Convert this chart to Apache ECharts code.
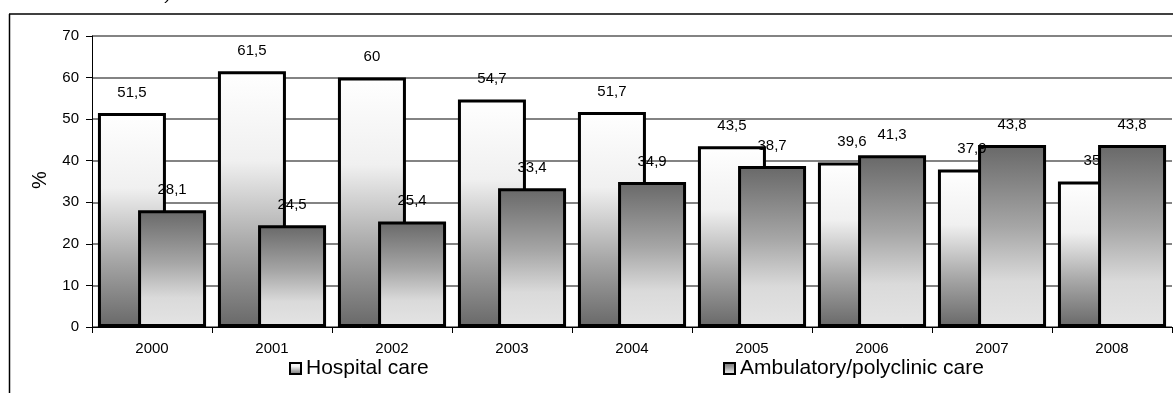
<!DOCTYPE html>
<html>
<head>
<meta charset="utf-8">
<script src="https://cdn.jsdelivr.net/npm/echarts@6/dist/echarts.min.js"></script>
<style>
  html, body { margin: 0; padding: 0; background: #fff; }
  #chart { width: 1173px; height: 393px; }
</style>
</head>
<body>
<div id="chart"></div>
<script>
// Share of funding by type of care, per year (%)
const years = ['2000', '2001', '2002', '2003', '2004', '2005', '2006', '2007', '2008'];
const hospitalCare = [51.5, 61.5, 60, 54.7, 51.7, 43.5, 39.6, 37.9, 35];
const ambulatoryCare = [28.1, 24.5, 25.4, 33.4, 34.9, 38.7, 41.3, 43.8, 43.8];
const yTicks = { min: 0, max: 70, interval: 10 };

const FONT = 'Arial, "Liberation Sans", sans-serif';

// light-at-top fill for hospital bars, dark-at-top fill for ambulatory bars
const hospitalFill = new echarts.graphic.LinearGradient(0, 0, 0, 1, [
  { offset: 0, color: '#ffffff' },
  { offset: 0.35, color: '#f0f0f0' },
  { offset: 0.68, color: '#a8a8a8' },
  { offset: 1, color: '#686868' }
]);
const ambulatoryFill = new echarts.graphic.LinearGradient(0, 0, 0, 1, [
  { offset: 0, color: '#686868' },
  { offset: 0.45, color: '#a6a6a6' },
  { offset: 0.75, color: '#dadada' },
  { offset: 1, color: '#e4e4e4' }
]);

const commaFormat = p => String(p.value).replace('.', ',');

const BAR_WIDTH = 68;
const BAR_GAP = '-41%';

const chart = echarts.init(document.getElementById('chart'), null, { renderer: 'canvas' });

const legendCommon = {
  padding: 0, icon: 'rect',
  itemWidth: 11, itemHeight: 11, itemGap: 5,
  textStyle: { fontSize: 21, fontFamily: FONT, color: '#000', padding: [0, 0, 0, 0] }
};

chart.setOption({
  animation: false,
  backgroundColor: '#ffffff',
  textStyle: { fontFamily: FONT },
  grid: { left: 92, right: 1, top: 36, bottom: 66, containLabel: false },
  graphic: [
    // chart frame
    { type: 'line', shape: { x1: 9, y1: 14, x2: 1173, y2: 14 }, style: { stroke: '#000', lineWidth: 1.5 } },
    { type: 'line', shape: { x1: 9.5, y1: 14, x2: 9.5, y2: 393 }, style: { stroke: '#000', lineWidth: 1.5 } },
    { type: 'text', left: 166, top: -15, style: { text: ')', font: 'italic 18px ' + FONT, fill: '#000' } },
    // y axis title
    {
      type: 'text', x: 40, y: 180, rotation: Math.PI / 2,
      style: { text: '%', font: '20px ' + FONT, fill: '#000', align: 'center', verticalAlign: 'middle' }
    }
  ],
  legend: [
    Object.assign({}, legendCommon, {
      data: [{ name: 'Hospital care', itemStyle: { color: hospitalFill, borderColor: '#000', borderWidth: 2 } }],
      left: 289, top: 358
    }),
    Object.assign({}, legendCommon, {
      data: [{ name: 'Ambulatory/polyclinic care', itemStyle: { color: ambulatoryFill, borderColor: '#000', borderWidth: 2 } }],
      left: 723, top: 358
    })
  ],
  xAxis: {
    type: 'category',
    data: years,
    boundaryGap: true,
    axisLine: { show: true, lineStyle: { color: '#000', width: 1 } },
    axisTick: { show: true, length: 6, alignWithLabel: false, lineStyle: { color: '#000' } },
    axisLabel: { fontSize: 15, color: '#000', margin: 14, fontFamily: FONT },
    splitLine: { show: false }
  },
  yAxis: {
    type: 'value',
    min: yTicks.min, max: yTicks.max, interval: yTicks.interval,
    axisLine: { show: true, lineStyle: { color: '#000', width: 1 } },
    axisTick: { show: true, length: 6, lineStyle: { color: '#000' } },
    axisLabel: { fontSize: 15, color: '#000', margin: 13, fontFamily: FONT },
    splitLine: { show: true, lineStyle: { color: '#5a5a5a', width: 1.5 } }
  },
  series: [
    {
      name: 'Hospital care',
      type: 'bar',
      data: hospitalCare,
      barWidth: BAR_WIDTH,
      barGap: BAR_GAP,
      itemStyle: { color: hospitalFill, borderColor: '#000', borderWidth: 3 },
      label: {
        show: true, position: 'top', distance: 13,
        fontSize: 15, color: '#000', fontFamily: FONT, formatter: commaFormat
      }
    },
    {
      name: 'Ambulatory/polyclinic care',
      type: 'bar',
      data: ambulatoryCare,
      barWidth: BAR_WIDTH,
      barGap: BAR_GAP,
      itemStyle: { color: ambulatoryFill, borderColor: '#000', borderWidth: 3 },
      label: {
        show: true, position: 'top', distance: 13,
        fontSize: 15, color: '#000', fontFamily: FONT, formatter: commaFormat
      }
    }
  ]
});
</script>
</body>
</html>
